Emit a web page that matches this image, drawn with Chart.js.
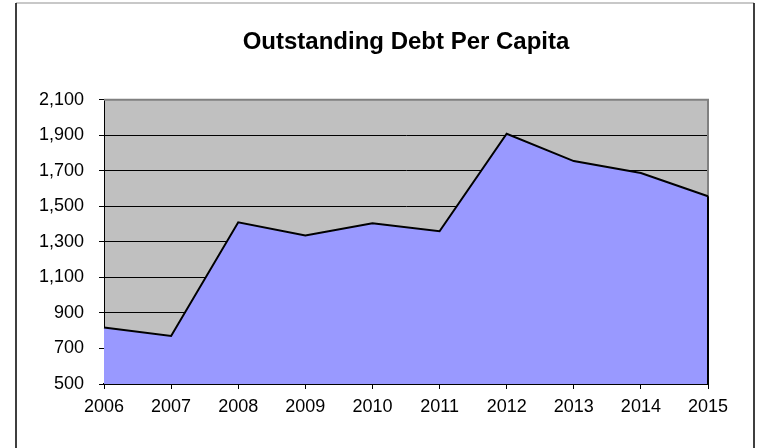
<!DOCTYPE html>
<html>
<head>
<meta charset="utf-8">
<script src="https://cdn.jsdelivr.net/npm/chart.js@4/dist/chart.umd.min.js"></script>
<style>
  html, body { margin: 0; padding: 0; background: #fff; }
  canvas { display: block; }
</style>
</head>
<body>
<canvas id="debtChart" width="759" height="448"></canvas>
<script>
// data
const years = ['2006', '2007', '2008', '2009', '2010', '2011', '2012', '2013', '2014', '2015'];
const debtPerCapita = [818, 770, 1410, 1336, 1405, 1360, 1909, 1755, 1688, 1557];
const yMin = 500;
const yMax = 2100;
const yStep = 200;

const FONT = "'Liberation Sans', Arial, sans-serif";

// grey plot background, grey plot border, and the frame round the whole chart
const plotDecor = {
    id: 'plotDecor',
    beforeDraw(chart) {
        const { ctx, chartArea: a } = chart;
        ctx.save();
        ctx.fillStyle = '#C0C0C0';
        ctx.fillRect(a.left, a.top, a.right - a.left, a.bottom - a.top);
        ctx.restore();
    },
    beforeDatasetsDraw(chart) {
        const { ctx, chartArea: a } = chart;
        ctx.save();
        ctx.strokeStyle = '#808080';
        ctx.lineWidth = 2;
        ctx.beginPath();
        ctx.moveTo(a.left, a.top);
        ctx.lineTo(a.right, a.top);
        ctx.lineTo(a.right, a.bottom);
        ctx.stroke();
        ctx.restore();
    },
    afterDatasetsDraw(chart) {
        // close the area outline down the last category
        const { ctx } = chart;
        const pts = chart.getDatasetMeta(0).data;
        const last = pts[pts.length - 1];
        const yScale = chart.scales.y;
        ctx.save();
        ctx.strokeStyle = '#000';
        ctx.lineWidth = 2;
        ctx.beginPath();
        ctx.moveTo(last.x, last.y);
        ctx.lineTo(last.x, yScale.getPixelForValue(yMin));
        ctx.stroke();
        ctx.restore();
    },
    afterDraw(chart) {
        const { ctx, height } = chart;
        ctx.save();
        ctx.strokeStyle = '#C8C8C8';
        ctx.lineWidth = 2;
        ctx.beginPath();
        ctx.moveTo(16, 3);
        ctx.lineTo(754, 3);
        ctx.stroke();
        ctx.strokeStyle = '#000';
        ctx.lineWidth = 1.5;
        ctx.beginPath();
        ctx.moveTo(16, 3);
        ctx.lineTo(16, height);
        ctx.moveTo(754, 3);
        ctx.lineTo(754, height);
        ctx.stroke();
        ctx.restore();
    }
};

const ctx = document.getElementById('debtChart').getContext('2d');

new Chart(ctx, {
    type: 'line',
    data: {
        labels: years,
        datasets: [{
            data: debtPerCapita,
            borderColor: '#000',
            borderWidth: 2,
            backgroundColor: '#9999FF',
            fill: 'start',
            tension: 0,
            pointRadius: 0
        }]
    },
    options: {
        responsive: false,
        animation: false,
        devicePixelRatio: 1,
        layout: {
            padding: { left: 16, right: 51, top: 0, bottom: 0 }
        },
        scales: {
            x: {
                offset: false,
                z: 1,
                grid: {
                    drawOnChartArea: false,
                    drawTicks: true,
                    tickLength: 5,
                    color: '#000'
                },
                border: { color: '#000', width: 2 },
                ticks: {
                    color: '#000',
                    font: { family: FONT, size: 18 },
                    padding: 7,
                    maxRotation: 0,
                    autoSkip: false
                },
                afterFit(scale) { scale.height = 64; }
            },
            y: {
                min: yMin,
                max: yMax,
                grid: {
                    color: '#000',
                    lineWidth: 1,
                    drawTicks: true,
                    tickLength: 5
                },
                border: { color: '#000', width: 1 },
                ticks: {
                    stepSize: yStep,
                    color: '#000',
                    padding: 15,
                    font: { family: FONT, size: 18 },
                    callback: v => v.toLocaleString('en-US')
                },
                afterFit(scale) { scale.width = 88; }
            }
        },
        plugins: {
            legend: { display: false },
            tooltip: { enabled: false },
            title: {
                display: true,
                fullSize: false,
                text: 'Outstanding Debt Per Capita',
                color: '#000',
                font: { family: FONT, size: 24, weight: 'bold' },
                padding: { top: 28, bottom: 43 }
            }
        }
    },
    plugins: [plotDecor]
});
</script>
</body>
</html>
